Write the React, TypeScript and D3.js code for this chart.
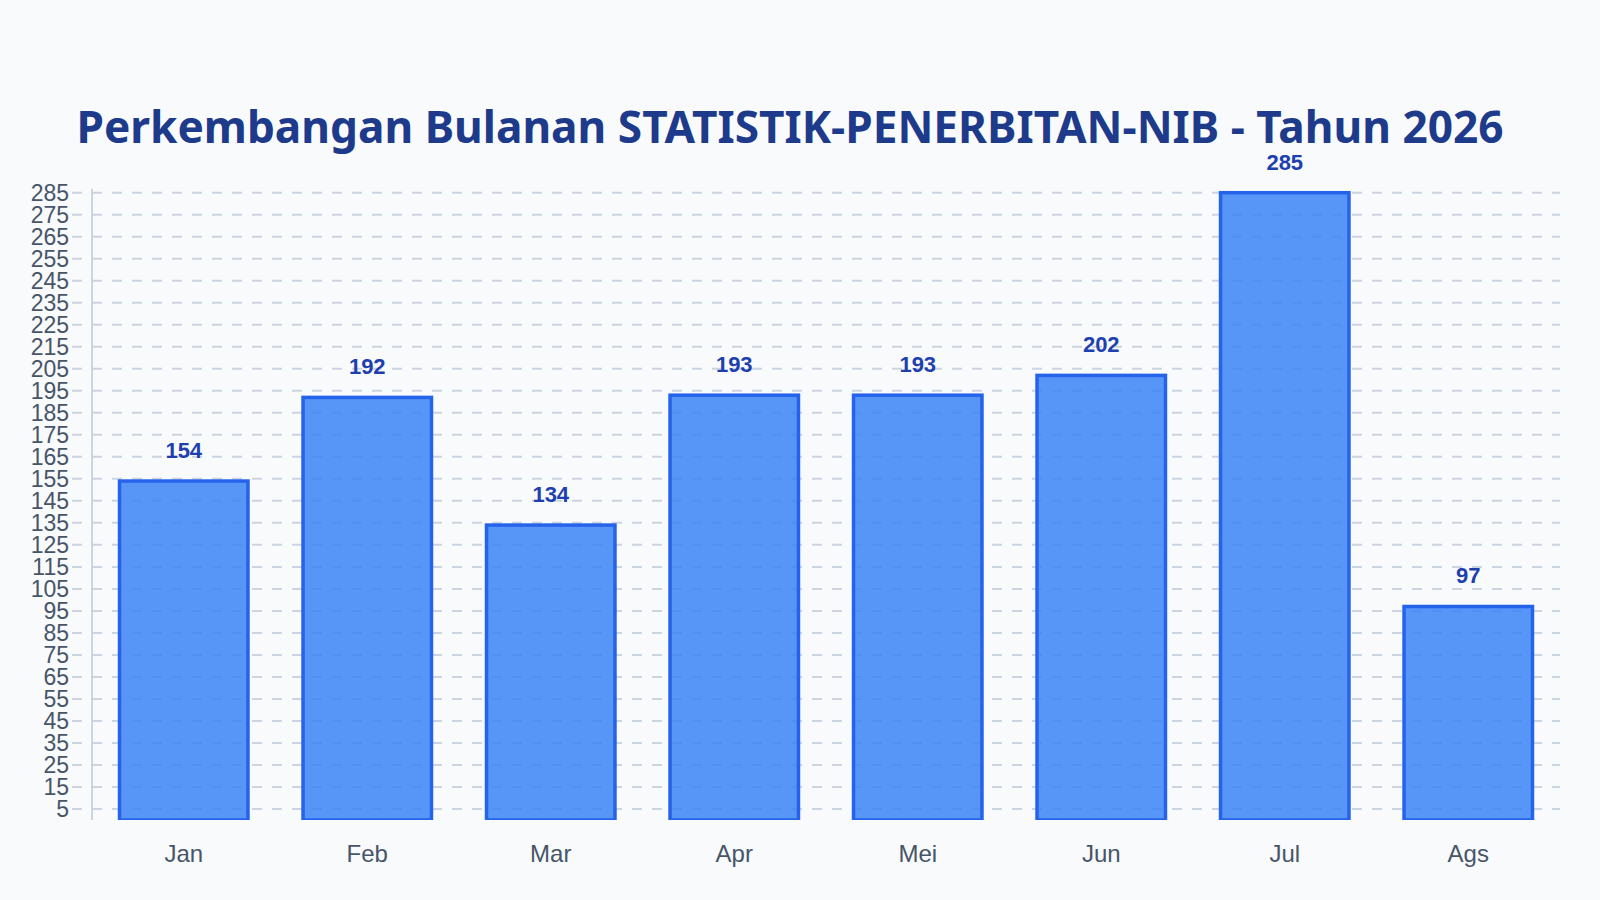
import * as d3 from 'd3';

const width = 1600;
const height = 900;
const plot = { left: 92, right: 1560, top: 192.7, bottom: 820 };

const months = ['Jan', 'Feb', 'Mar', 'Apr', 'Mei', 'Jun', 'Jul', 'Ags'];
const counts = [154, 192, 134, 193, 193, 202, 285, 97];
const yTicks = [
  5, 15, 25, 35, 45, 55, 65, 75, 85, 95, 105, 115, 125, 135, 145, 155, 165,
  175, 185, 195, 205, 215, 225, 235, 245, 255, 265, 275, 285,
];
const title = 'Perkembangan Bulanan STATISTIK-PENERBITAN-NIB - Tahun 2026';

export default function App() {
  const x = d3
    .scaleBand<string>()
    .domain(months)
    .range([plot.left, plot.right])
    .paddingInner(0.3)
    .paddingOuter(0.15);
  const y = d3
    .scaleLinear()
    .domain([0, d3.max(counts) ?? 0])
    .range([plot.bottom, plot.top]);

  return (
    <div
      style={{
        position: 'fixed',
        inset: 0,
        background: '#f8fafc',
      }}
    >
      <svg width={width} height={height} style={{ display: 'block' }}>
        <rect width={width} height={height} fill="#f8fafc" />
        <text
          x={790}
          y={143}
          textAnchor="middle"
          fontFamily="'Noto Sans', sans-serif"
          fontWeight={700}
          fontSize={44.2}
          fill="#1e3a8a"
        >
          {title}
        </text>

        {/* grid + y ticks */}
        <g>
          {yTicks.map((t) => (
            <g key={t}>
              <line
                x1={72}
                x2={plot.right}
                y1={y(t)}
                y2={y(t)}
                stroke="#cbd5e1"
                strokeWidth={2}
                strokeDasharray="10,10"
              />
              <text
                x={69}
                y={y(t)}
                dy="0.36em"
                textAnchor="end"
                fontFamily="'Liberation Sans', Arial, sans-serif"
                fontSize={23}
                fill="#475569"
              >
                {t}
              </text>
            </g>
          ))}
        </g>
        <line
          x1={plot.left}
          x2={plot.left}
          y1={plot.top - 4}
          y2={plot.bottom}
          stroke="#cbd5e1"
          strokeWidth={2}
        />

        {/* bars */}
        <g>
          {counts.map((v, i) => {
            const bx = x(months[i]) ?? 0;
            return (
              <g key={months[i]}>
                <rect
                  x={bx}
                  y={y(v)}
                  width={x.bandwidth()}
                  height={plot.bottom - y(v)}
                  fill="#3b82f6"
                  fillOpacity={0.85}
                  stroke="#2563eb"
                  strokeWidth={3.5}
                />
                <text
                  x={bx + x.bandwidth() / 2}
                  y={y(v) - 23}
                  textAnchor="middle"
                  fontFamily="'Liberation Sans', Arial, sans-serif"
                  fontWeight={700}
                  fontSize={22}
                  fill="#1e40af"
                >
                  {v}
                </text>
              </g>
            );
          })}
        </g>
        {/* cover the bars' bottom stroke */}
        <rect x={plot.left + 2} y={plot.bottom} width={plot.right - plot.left} height={4} fill="#f8fafc" />

        {/* x labels */}
        <g>
          {months.map((m) => (
            <text
              key={m}
              x={(x(m) ?? 0) + x.bandwidth() / 2}
              y={862}
              textAnchor="middle"
              fontFamily="'Liberation Sans', Arial, sans-serif"
              fontSize={24}
              fill="#475569"
            >
              {m}
            </text>
          ))}
        </g>
      </svg>
    </div>
  );
}
